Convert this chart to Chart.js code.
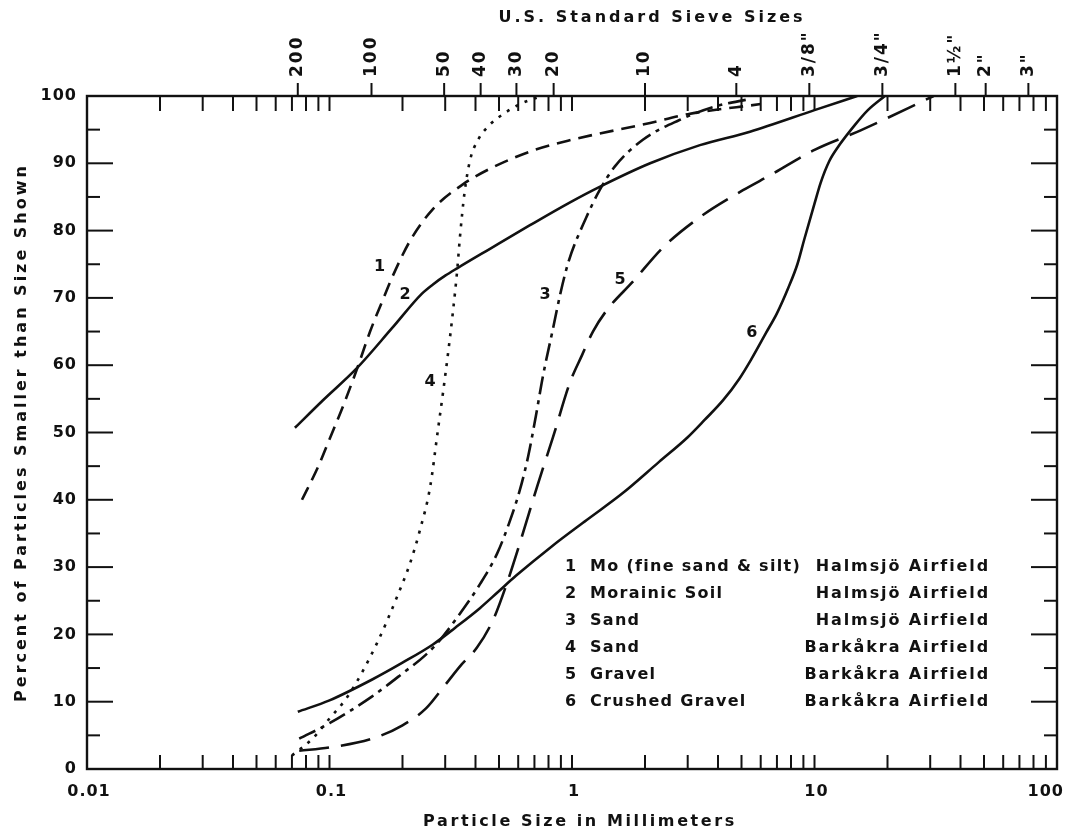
<!DOCTYPE html>
<html>
<head>
<meta charset="utf-8">
<script src="https://cdn.jsdelivr.net/npm/chart.js@4.4.0/dist/chart.umd.min.js"></script>
<style>
  html, body { margin: 0; padding: 0; background: #fff; }
  #wrap { width: 1065px; height: 836px; }
</style>
</head>
<body>
<div id="wrap"><canvas id="grading" width="1065" height="836"></canvas></div>
<script>
// --- values (particle size in mm, percent passing) ---
const size1 = [0.077, 0.09, 0.1, 0.114, 0.13, 0.147, 0.165, 0.181, 0.215, 0.267, 0.356, 0.459, 0.69, 1.0, 2.1, 3.0, 6.0];
const pct1  = [40.0, 45.0, 49.0, 54.0, 59.5, 65.0, 69.5, 73.0, 78.5, 83.2, 86.9, 89.2, 91.9, 93.5, 96.0, 97.3, 98.8];

const size2 = [0.072, 0.094, 0.13, 0.181, 0.24, 0.267, 0.3, 0.336, 0.459, 0.671, 0.982, 1.3, 2.1, 3.37, 5.42, 10.0, 15.0];
const pct2  = [50.7, 54.8, 59.6, 65.5, 70.6, 72.0, 73.3, 74.4, 77.3, 80.8, 84.2, 86.5, 90.0, 92.7, 94.7, 97.9, 100];

const size3 = [0.075, 0.1, 0.15, 0.2, 0.25, 0.286, 0.336, 0.418, 0.491, 0.55, 0.61, 0.66, 0.71, 0.76, 0.83, 0.9, 0.97, 1.14, 1.3, 1.5, 1.96, 2.76, 3.85, 5.5];
const pct3  = [4.5, 6.8, 10.8, 14.2, 17.0, 19.2, 22.5, 27.5, 32.0, 36.5, 41.5, 46.5, 52.5, 58.5, 65.0, 71.0, 75.5, 81.8, 86.0, 89.5, 93.5, 96.4, 98.4, 99.6];

const size4 = [0.07, 0.085, 0.1, 0.12, 0.157, 0.19, 0.215, 0.236, 0.26, 0.28, 0.294, 0.31, 0.323, 0.336, 0.345, 0.36, 0.38, 0.41, 0.46, 0.52, 0.61, 0.75];
const pct4  = [2.0, 4.5, 7.5, 11.0, 18.7, 25.6, 30.6, 35.5, 41.9, 50.4, 56.0, 62.5, 68.0, 74.0, 79.0, 85.5, 90.5, 93.5, 95.8, 97.3, 98.8, 100];

const size5 = [0.075, 0.1, 0.15, 0.2, 0.25, 0.3, 0.35, 0.405, 0.472, 0.539, 0.61, 0.717, 0.835, 0.98, 1.1, 1.22, 1.4, 1.77, 2.39, 3.37, 5.07, 6.62, 10.0, 15.5, 31.0];
const pct5  = [2.7, 3.2, 4.5, 6.5, 9.0, 12.5, 15.5, 18.0, 22.1, 27.6, 33.6, 41.9, 49.3, 57.4, 61.5, 65.0, 68.3, 72.3, 77.6, 82.0, 86.0, 88.3, 92.0, 94.9, 100];

const size6 = [0.074, 0.1, 0.15, 0.2, 0.267, 0.33, 0.417, 0.495, 0.587, 0.82, 1.15, 1.62, 2.28, 3.0, 3.53, 4.2, 4.9, 5.47, 6.31, 7.0, 7.8, 8.5, 9.06, 10.0, 10.6, 11.5, 12.6, 14.6, 16.6, 19.5];
const pct6  = [8.5, 10.2, 13.3, 15.8, 18.5, 21.0, 23.9, 26.3, 28.7, 33.0, 37.0, 41.0, 45.6, 49.3, 51.9, 54.8, 58.0, 60.8, 64.8, 67.7, 71.5, 75.0, 78.6, 84.0, 87.1, 90.3, 92.6, 95.6, 97.9, 100];

// --- axes ---
const xTickValues = [0.01, 0.1, 1, 10, 100];
const xTickLabels = ['0.01', '0.1', '1', '10', '100'];
const yTickValues = [0, 10, 20, 30, 40, 50, 60, 70, 80, 90, 100];
const sieveSizes  = [0.074, 0.149, 0.297, 0.42, 0.59, 0.84, 2.0, 4.76, 9.52, 19.05, 38.1, 50.8, 76.2];
const sieveLabels = ['200', '100', '50', '40', '30', '20', '10', '4', '3/8"', '3/4"', '1½"', '2"', '3"'];

// --- legend text ---
const legendNums   = ['1', '2', '3', '4', '5', '6'];
const legendNames  = ['Mo (fine sand & silt)', 'Morainic Soil', 'Sand', 'Sand', 'Gravel', 'Crushed Gravel'];
const legendPlaces = ['Halmsjö Airfield', 'Halmsjö Airfield', 'Halmsjö Airfield', 'Barkåkra Airfield', 'Barkåkra Airfield', 'Barkåkra Airfield'];

// curve number tags, placed in data coordinates
const tagText = ['1', '2', '3', '4', '5', '6'];
const tagSize = [0.161, 0.205, 0.774, 0.26, 1.58, 5.52];
const tagPct  = [74.6, 70.4, 70.4, 57.5, 72.7, 64.8];

const ink = '#111';
const FONT = "'DejaVu Sans', sans-serif";

function pairs(xs, ys) { return xs.map((v, i) => ({ x: v, y: ys[i] })); }

const curves = [
  { data: pairs(size1, pct1), dash: [14, 8] },
  { data: pairs(size2, pct2), dash: [] },
  { data: pairs(size3, pct3), dash: [18, 6, 4, 6] },
  { data: pairs(size4, pct4), dash: [3, 7] },
  { data: pairs(size5, pct5), dash: [30, 12] },
  { data: pairs(size6, pct6), dash: [] }
];

function seg(ctx, x1, y1, x2, y2) {
  ctx.beginPath(); ctx.moveTo(x1, y1); ctx.lineTo(x2, y2); ctx.stroke();
}

const frame = {
  id: 'frame',
  afterDraw(chart) {
    const { ctx, chartArea: a, scales: { x, y } } = chart;
    ctx.save();
    ctx.strokeStyle = ink;
    ctx.fillStyle = ink;
    ctx.lineCap = 'butt';

    // box
    ctx.lineWidth = 2.4;
    ctx.strokeRect(a.left, a.top, a.right - a.left, a.bottom - a.top);

    // y ticks, inward on both sides
    ctx.lineWidth = 2;
    for (let v = 5; v < 100; v += 5) {
      const py = y.getPixelForValue(v);
      const len = v % 10 === 0 ? 26 : 13;
      seg(ctx, a.left, py, a.left + len, py);
      seg(ctx, a.right, py, a.right - len, py);
    }

    // log ticks, inward at bottom and top
    for (let e = -2; e < 2; e++) {
      for (let m = 2; m <= 10; m++) {
        const v = m * Math.pow(10, e);
        if (v >= 99) continue;
        const px = x.getPixelForValue(v);
        seg(ctx, px, a.bottom, px, a.bottom - 14);
        seg(ctx, px, a.top, px, a.top + 15);
      }
    }

    // sieve ticks, outward at top
    sieveSizes.forEach(s => {
      const px = x.getPixelForValue(s);
      seg(ctx, px, a.top, px, a.top - 13);
    });

    // y labels
    ctx.font = 'bold 16px ' + FONT;
    ctx.letterSpacing = '1px';
    ctx.textAlign = 'right';
    ctx.textBaseline = 'middle';
    yTickValues.forEach(v => ctx.fillText(String(v), a.left - 10, y.getPixelForValue(v)));

    // x labels
    xTickValues.forEach((v, i) => {
      const px = x.getPixelForValue(v);
      if (i === xTickValues.length - 1) {
        ctx.textAlign = 'right';
        ctx.fillText(xTickLabels[i], 1064, a.bottom + 23);
      } else {
        ctx.textAlign = 'center';
        ctx.fillText(xTickLabels[i], px + 2, a.bottom + 23);
      }
    });

    // sieve labels, rotated
    ctx.font = 'bold 17px ' + FONT;
    ctx.letterSpacing = '2px';
    ctx.textAlign = 'left';
    sieveSizes.forEach((s, i) => {
      const px = x.getPixelForValue(s);
      ctx.save();
      ctx.translate(px, a.top - 19);
      ctx.rotate(-Math.PI / 2);
      ctx.fillText(sieveLabels[i], 0, 0);
      ctx.restore();
    });

    // axis titles
    ctx.font = 'bold 16px ' + FONT;
    ctx.textAlign = 'center';
    ctx.letterSpacing = '2.6px';
    ctx.fillText('Particle Size in Millimeters', 580, 822);
    ctx.save();
    ctx.translate(22, (a.top + a.bottom) / 2);
    ctx.rotate(-Math.PI / 2);
    ctx.letterSpacing = '3px';
    ctx.fillText('Percent of Particles Smaller than Size Shown', 0, 0);
    ctx.restore();
    ctx.letterSpacing = '3px';
    ctx.fillText('U.S. Standard Sieve Sizes', 652, 18);

    // curve tags
    ctx.letterSpacing = '0px';
    ctx.font = 'bold 16px ' + FONT;
    tagText.forEach((t, i) => {
      ctx.fillText(t, x.getPixelForValue(tagSize[i]), y.getPixelForValue(tagPct[i]));
    });

    // legend block
    legendNums.forEach((n, i) => {
      const ly = 567 + i * 27;
      ctx.letterSpacing = '1.3px';
      ctx.textAlign = 'left';
      ctx.fillText(n, 565, ly);
      ctx.fillText(legendNames[i], 590, ly);
      ctx.letterSpacing = '1.9px';
      ctx.textAlign = 'right';
      ctx.fillText(legendPlaces[i], 990, ly);
    });
    ctx.restore();
  }
};

new Chart(document.getElementById('grading'), {
  type: 'line',
  data: {
    datasets: curves.map((c, i) => ({
      label: legendNames[i],
      data: c.data,
      borderColor: ink,
      borderWidth: 2.6,
      borderDash: c.dash,
      borderCapStyle: 'butt',
      cubicInterpolationMode: 'monotone',
      pointRadius: 0,
      fill: false
    }))
  },
  options: {
    responsive: false,
    animation: false,
    layout: { padding: { left: 87, right: 8, top: 96, bottom: 67 } },
    plugins: { legend: { display: false }, tooltip: { enabled: false } },
    scales: {
      x: { type: 'logarithmic', min: 0.01, max: 100, display: false },
      y: { type: 'linear', min: 0, max: 100, display: false }
    }
  },
  plugins: [frame]
});
</script>
</body>
</html>
